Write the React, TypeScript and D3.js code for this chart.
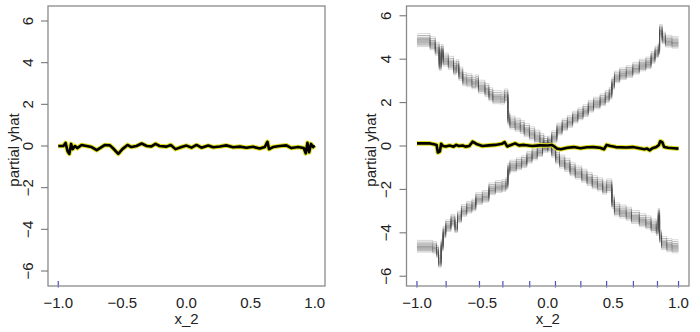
import React from "react";
import * as d3 from "d3";

// ---------- data ----------
const xTicks = [-1, -0.5, 0, 0.5, 1];
const yTicks = [-6, -4, -2, 0, 2, 4, 6];
const xLabel = "x_2";
const yLabel = "partial yhat";

// left panel: partial dependence line
const leftPdpX = [-1.0, -0.96, -0.943, -0.927, -0.914, -0.9, -0.888, -0.87, -0.852, -0.818, -0.779, -0.74, -0.7, -0.675, -0.636, -0.597, -0.571, -0.532, -0.5, -0.46, -0.43, -0.39, -0.35, -0.31, -0.273, -0.242, -0.21, -0.156, -0.122, -0.086, -0.039, 0.0, 0.039, 0.078, 0.117, 0.169, 0.208, 0.26, 0.31, 0.364, 0.416, 0.468, 0.519, 0.571, 0.61, 0.631, 0.644, 0.675, 0.727, 0.779, 0.818, 0.87, 0.914, 0.93, 0.943, 0.956, 0.971, 0.987, 1.0];
const leftPdpY = [0.0, 0.0, 0.15, -0.25, -0.38, 0.1, -0.15, 0.0, -0.1, 0.05, 0.0, -0.05, -0.2, -0.1, 0.05, 0.03, -0.12, -0.38, -0.15, 0.05, -0.05, 0.0, 0.12, 0.0, -0.02, 0.1, 0.0, -0.03, 0.05, -0.15, -0.05, 0.02, -0.08, 0.05, -0.08, 0.02, -0.06, -0.02, 0.03, -0.06, -0.03, -0.08, -0.04, -0.12, -0.05, 0.2, -0.15, -0.05, 0.0, 0.03, -0.1, -0.05, -0.1, -0.35, 0.15, -0.3, 0.1, -0.05, 0.02];
const leftRug = [-1.0];

// right panel: partial dependence line
const rightPdpX = [-1.0, -0.9, -0.87, -0.85, -0.84, -0.825, -0.815, -0.8, -0.78, -0.75, -0.72, -0.7, -0.68, -0.65, -0.63, -0.6, -0.575, -0.56, -0.54, -0.5, -0.45, -0.4, -0.35, -0.33, -0.31, -0.28, -0.25, -0.22, -0.18, -0.12, -0.06, 0.0, 0.03, 0.05, 0.07, 0.1, 0.15, 0.2, 0.25, 0.3, 0.35, 0.4, 0.43, 0.45, 0.48, 0.52, 0.6, 0.65, 0.7, 0.74, 0.76, 0.78, 0.8, 0.83, 0.85, 0.86, 0.875, 0.89, 0.92, 0.96, 1.0];
const rightPdpY = [0.12, 0.12, 0.08, 0.05, -0.3, -0.25, 0.1, 0.0, -0.02, 0.02, -0.03, 0.05, 0.0, 0.02, -0.03, 0.0, 0.2, 0.15, 0.08, 0.0, 0.03, 0.05, 0.1, 0.18, -0.02, 0.05, 0.12, 0.03, 0.05, 0.0, 0.03, 0.02, 0.05, -0.02, -0.12, -0.15, -0.08, -0.05, -0.1, -0.06, -0.05, -0.08, -0.15, 0.05, 0.0, -0.05, -0.07, -0.05, -0.1, -0.15, -0.12, -0.2, -0.1, -0.05, 0.05, 0.22, 0.18, -0.05, -0.08, -0.1, -0.12];
const rightRug = [-1.0, -0.777, -0.522, -0.343, -0.138, 0.059, 0.253, 0.45, 0.655, 0.839, 1.0];

// right panel: ICE curves, decreasing group (step levels)
const decX = [-1.0, -0.9, -0.86, -0.83, -0.815, -0.8, -0.76, -0.72, -0.7, -0.68, -0.65, -0.62, -0.58, -0.55, -0.53, -0.48, -0.45, -0.42, -0.36, -0.33, -0.305, -0.29, -0.25, -0.21, -0.18, -0.14, -0.1, -0.06, -0.03, 0.0, 0.03, 0.06, 0.09, 0.13, 0.17, 0.21, 0.26, 0.3, 0.34, 0.38, 0.42, 0.45, 0.49, 0.51, 0.55, 0.6, 0.64, 0.7, 0.75, 0.79, 0.83, 0.845, 0.855, 0.87, 0.91, 0.95, 1.0];
const decY = [4.85, 4.7, 4.45, 3.75, 4.35, 3.95, 3.8, 3.55, 3.65, 3.3, 3.05, 3.0, 2.9, 2.95, 2.7, 2.55, 2.35, 2.22, 2.2, 2.3, 1.25, 1.05, 0.95, 0.85, 0.7, 0.55, 0.4, 0.25, 0.1, 0.0, -0.25, -0.55, -0.75, -0.9, -1.1, -1.25, -1.4, -1.55, -1.7, -1.8, -1.95, -1.85, -2.6, -2.95, -3.05, -3.15, -3.3, -3.45, -3.55, -3.7, -3.85, -3.2, -4.2, -4.5, -4.6, -4.65, -4.65];
const decOffsets = [0.33, 0.24, 0.16, 0.1, 0.06, 0.02, -0.02, -0.06, -0.1, -0.15, -0.2, -0.27];

// right panel: ICE curves, increasing group (step levels)
const incX = [-1.0, -0.88, -0.85, -0.835, -0.815, -0.8, -0.78, -0.74, -0.71, -0.69, -0.66, -0.62, -0.58, -0.55, -0.5, -0.45, -0.4, -0.35, -0.32, -0.305, -0.29, -0.24, -0.2, -0.16, -0.12, -0.08, -0.04, 0.0, 0.03, 0.07, 0.11, 0.15, 0.19, 0.23, 0.27, 0.31, 0.35, 0.4, 0.44, 0.47, 0.49, 0.51, 0.55, 0.6, 0.65, 0.7, 0.75, 0.79, 0.82, 0.845, 0.855, 0.875, 0.9, 0.95, 1.0];
const incY = [-4.65, -4.7, -4.9, -5.35, -4.6, -4.0, -3.7, -3.45, -3.75, -3.3, -3.0, -2.85, -2.75, -2.45, -2.35, -2.0, -1.9, -1.85, -1.75, -1.1, -0.95, -0.85, -0.75, -0.55, -0.4, -0.25, -0.05, 0.15, 0.4, 0.75, 0.95, 1.1, 1.3, 1.45, 1.6, 1.8, 1.95, 2.1, 2.25, 2.4, 2.85, 3.15, 3.3, 3.4, 3.55, 3.7, 3.8, 4.05, 4.3, 4.45, 5.3, 4.95, 4.8, 4.75, 4.75];
const incOffsets = [0.3, 0.22, 0.15, 0.1, 0.05, 0.02, -0.02, -0.05, -0.09, -0.13, -0.18, -0.24];

// ---------- layout ----------
const W = 700;
const H = 332;
const FONT = "'Liberation Sans', Arial, Helvetica, sans-serif";

type PanelCfg = {
  left: number;
  right: number;
  top: number;
  bottom: number;
  yExt: number;
  tickLabelX: number;
  titleX: number;
};

const leftCfg: PanelCfg = { left: 48, right: 325, top: 6, bottom: 286, yExt: 6.72, tickLabelX: 33, titleX: 19 };
const rightCfg: PanelCfg = { left: 406.5, right: 689, top: 6, bottom: 286, yExt: 6.45, tickLabelX: 391, titleX: 376 };

const fmtX = d3.format(".1f");
const fmtY = d3.format("d");

function Panel({
  cfg,
  pdpX,
  pdpY,
  rug,
  groups,
}: {
  cfg: PanelCfg;
  pdpX: number[];
  pdpY: number[];
  rug: number[];
  groups: { xs: number[]; ys: number[]; offsets: number[] }[];
}) {
  const x = d3.scaleLinear().domain([-1.08, 1.08]).range([cfg.left, cfg.right]);
  const y = d3.scaleLinear().domain([-cfg.yExt, cfg.yExt]).range([cfg.bottom, cfg.top]);

  const stepLine = d3
    .line<[number, number]>()
    .x((d) => x(d[0]))
    .y((d) => y(d[1]))
    .curve(d3.curveStepAfter);
  const pdpLine = d3
    .line<[number, number]>()
    .x((d) => x(d[0]))
    .y((d) => y(d[1]));

  const pdpPts: [number, number][] = pdpX.map((v, i) => [v, pdpY[i]]);
  const midY = (cfg.top + cfg.bottom) / 2;
  const midX = (cfg.left + cfg.right) / 2;

  return (
    <g>
      {groups.map((g, gi) =>
        g.offsets.map((off, ci) => {
          const pts: [number, number][] = g.xs.map((v, i) => [v, g.ys[i] + off]);
          const edge = ci === 0 || ci === g.offsets.length - 1;
          return (
            <path
              key={`c${gi}-${ci}`}
              d={stepLine(pts) || ""}
              fill="none"
              stroke="rgb(75,75,75)"
              strokeOpacity={edge ? 0.25 : 0.48}
              strokeWidth={0.85}
            />
          );
        })
      )}
      <path d={pdpLine(pdpPts) || ""} fill="none" stroke="#dede1e" strokeWidth={4.6} strokeLinejoin="round" />
      <path d={pdpLine(pdpPts) || ""} fill="none" stroke="#000" strokeWidth={2.6} strokeLinejoin="round" />
      {rug.map((r, i) => (
        <line key={`r${i}`} x1={x(r)} x2={x(r)} y1={cfg.bottom - 5} y2={cfg.bottom + 1.5} stroke="#4a4ad0" strokeWidth={1.2} />
      ))}
      <rect
        x={cfg.left}
        y={cfg.top}
        width={cfg.right - cfg.left}
        height={cfg.bottom - cfg.top}
        fill="none"
        stroke="#8a8a8a"
        strokeWidth={1.3}
      />
      {yTicks.map((t) => (
        <g key={`yt${t}`}>
          <line x1={cfg.left - 7} x2={cfg.left} y1={y(t)} y2={y(t)} stroke="#777" strokeWidth={1.1} />
          <text
            transform={`translate(${cfg.tickLabelX},${y(t)}) rotate(-90)`}
            textAnchor="middle"
            fontSize={15}
            fontFamily={FONT}
            fill="#222"
          >
            {fmtY(t)}
          </text>
        </g>
      ))}
      {xTicks.map((t) => (
        <text key={`xt${t}`} x={x(t)} y={308} textAnchor="middle" fontSize={15} fontFamily={FONT} fill="#222">
          {fmtX(t)}
        </text>
      ))}
      <text x={midX} y={324} textAnchor="middle" fontSize={15} fontFamily={FONT} fill="#222">
        {xLabel}
      </text>
      <text
        transform={`translate(${cfg.titleX},${midY + 4}) rotate(-90)`}
        textAnchor="middle"
        fontSize={15}
        fontFamily={FONT}
        fill="#222"
      >
        {yLabel}
      </text>
    </g>
  );
}

export default function App() {
  return (
    <svg
      width={W}
      height={H}
      viewBox={`0 0 ${W} ${H}`}
      style={{ position: "absolute", left: 0, top: 0, background: "#fff", display: "block" }}
    >
      <rect width={W} height={H} fill="#fff" />
      <Panel cfg={leftCfg} pdpX={leftPdpX} pdpY={leftPdpY} rug={leftRug} groups={[]} />
      <Panel
        cfg={rightCfg}
        pdpX={rightPdpX}
        pdpY={rightPdpY}
        rug={rightRug}
        groups={[
          { xs: decX, ys: decY, offsets: decOffsets },
          { xs: incX, ys: incY, offsets: incOffsets },
        ]}
      />
    </svg>
  );
}
